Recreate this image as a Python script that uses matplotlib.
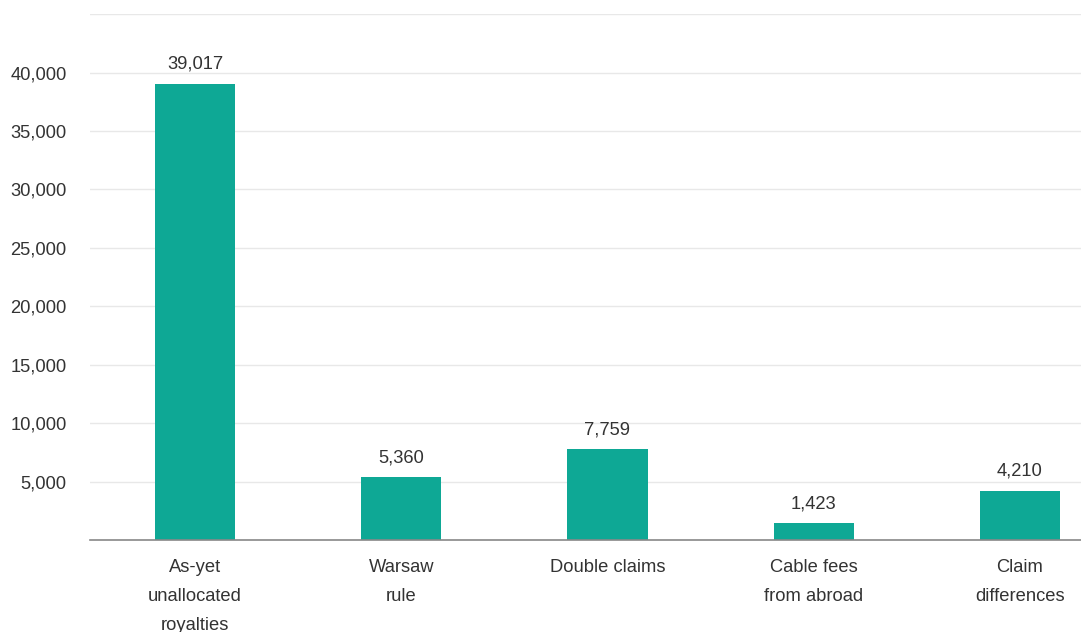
import matplotlib
matplotlib.use("Agg")
import matplotlib.pyplot as plt
from matplotlib.ticker import FuncFormatter

categories = ["As-yet\nunallocated\nroyalties", "Warsaw\nrule", "Double claims",
              "Cable fees\nfrom abroad", "Claim\ndifferences"]
values = [39017, 5360, 7759, 1423, 4210]
y_ticks = [5000, 10000, 15000, 20000, 25000, 30000, 35000, 40000]
grid_levels = y_ticks + [45000]

BAR_COLOR = "#0ea895"
TEXT_COLOR = "#333333"
FS = 13.2

plt.rcParams["font.family"] = ["Liberation Sans", "DejaVu Sans"]

fig = plt.figure(figsize=(10.81, 6.32), dpi=100)
ax = fig.add_axes([0.0833, 0.1456, 0.9167, 0.832])

xs = range(len(values))
ax.bar(xs, values, width=0.39, color=BAR_COLOR, zorder=3)

for x, v in zip(xs, values):
    ax.annotate(f"{v:,}", (x, v), xytext=(0, 8), textcoords="offset points",
                ha="center", va="bottom", fontsize=FS, color=TEXT_COLOR)

for g in grid_levels:
    ax.axhline(g, color="#e8e8e8", lw=1, zorder=1)

ax.set_xlim(-0.509, 4.296)
ax.set_ylim(0, 45000)
ax.set_yticks(y_ticks)
ax.yaxis.set_major_formatter(FuncFormatter(lambda v, p: f"{int(v):,}"))
ax.set_xticks(list(xs))
ax.set_xticklabels(categories, linespacing=1.95)

ax.tick_params(axis="y", length=0, pad=17, labelsize=FS, labelcolor=TEXT_COLOR)
ax.tick_params(axis="x", length=0, pad=13.5, labelsize=FS, labelcolor=TEXT_COLOR)
for lbl in ax.get_xticklabels():
    lbl.set_verticalalignment("top")

for side in ["top", "right", "left"]:
    ax.spines[side].set_visible(False)
ax.spines["bottom"].set_color("#888888")
ax.spines["bottom"].set_linewidth(1.2)
ax.spines["bottom"].set_zorder(4)

fig.savefig("out.png", dpi=100)
